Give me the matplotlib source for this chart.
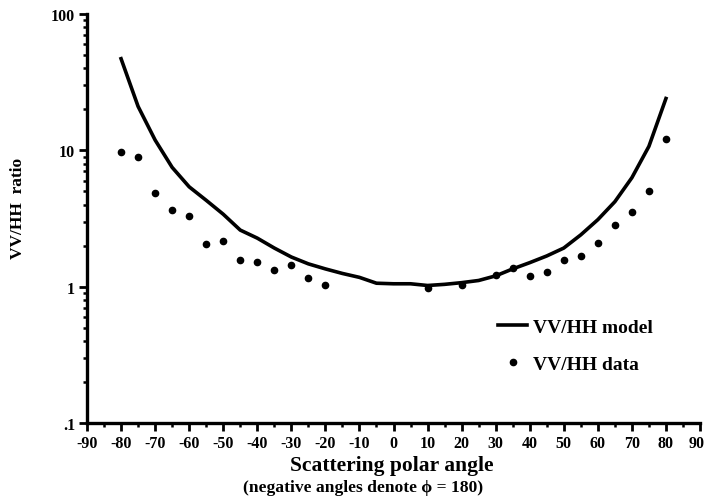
import numpy as np
import matplotlib.pyplot as plt
import matplotlib.transforms as mtransforms
from matplotlib.ticker import FixedLocator, LogLocator, NullFormatter

# model curve, 5 degree steps
model_angle = [-80, -75, -70, -65, -60, -55, -50, -45, -40, -35, -30, -25, -20,
               -15, -10, -5, 0, 5, 10, 15, 20, 25, 30, 35, 40, 45, 50, 55, 60,
               65, 70, 75, 80]
model_ratio = [47.0, 21.0, 11.9, 7.5, 5.4, 4.3, 3.4, 2.6, 2.27, 1.92, 1.65, 1.47,
               1.35, 1.25, 1.17, 1.06, 1.05, 1.05, 1.02, 1.04, 1.07, 1.11, 1.2,
               1.35, 1.5, 1.68, 1.92, 2.4, 3.1, 4.2, 6.3, 10.7, 24.0]

# measured ratios
data_angle = [-80, -75, -70, -65, -60, -55, -50, -45, -40, -35, -30, -25, -20,
              10, 20, 30, 35, 40, 45, 50, 55, 60, 65, 70, 75, 80]
data_ratio = [9.7, 8.9, 4.9, 3.67, 3.31, 2.07, 2.18, 1.58, 1.51, 1.32, 1.45, 1.16,
              1.02, 0.98, 1.02, 1.22, 1.37, 1.19, 1.28, 1.58, 1.67, 2.09, 2.83,
              3.54, 5.05, 12.2]

x_ticks = list(range(-90, 91, 10))
y_ticks = [0.1, 1, 10, 100]
y_ticklabels = [".1", "1", "10", "100"]

serif = ['Liberation Serif', 'DejaVu Serif']
plt.rcParams['font.family'] = serif
plt.rcParams['font.weight'] = 'bold'

W, H = 706, 502
fig = plt.figure(figsize=(W / 100, H / 100), dpi=100)
ax = fig.add_axes([87 / W, 1 - 424 / H, 613 / W, 409 / H])

ax.plot(model_angle, model_ratio, color='black', lw=2.6, solid_joinstyle='round',
        label='VV/HH model')
ax.plot(data_angle, data_ratio, 'o', color='black', ms=4.5, ls='none',
        label='VV/HH data')

ax.set_yscale('log')
ax.set_xlim(-90, 90)
ax.set_ylim(0.1, 100)

ax.xaxis.set_major_locator(FixedLocator(x_ticks))
ax.xaxis.set_minor_locator(FixedLocator(list(range(-85, 90, 10))))
ax.set_xticklabels([str(t) for t in x_ticks])
ax.yaxis.set_major_locator(FixedLocator(y_ticks))
ax.set_yticklabels(y_ticklabels)
ax.yaxis.set_minor_locator(LogLocator(base=10, subs=np.arange(2, 10)))
ax.yaxis.set_minor_formatter(NullFormatter())

for side in ['top', 'right']:
    ax.spines[side].set_visible(False)
for side in ['left', 'bottom']:
    ax.spines[side].set_linewidth(2.4)

ax.tick_params(which='major', direction='out', length=6, width=2, labelsize=11.5, pad=2.5)
ax.tick_params(which='minor', direction='out', length=3, width=1.8)
for lab in ax.get_xticklabels() + ax.get_yticklabels():
    lab.set_fontweight('bold')

# nudge the last x label so it stays inside the figure
last = ax.get_xticklabels()[-1]
last.set_transform(last.get_transform() +
                   mtransforms.ScaledTranslation(-3 / 100, 0, fig.dpi_scale_trans))

# axis titles
fig.text(392 / W, 1 - 466 / H, 'Scattering polar angle', ha='center', va='center',
         fontsize=15.5, fontweight='bold')
fig.text(363 / W, 1 - 488 / H, '(negative angles denote \u03d5 = 180)', ha='center',
         va='center', fontsize=12.6, fontweight='bold')
fig.text(18 / W, 1 - 208 / H, 'VV/HH  ratio', ha='center', va='center', rotation=90,
         fontsize=12.5, fontweight='bold')

ax.legend(loc='upper left', bbox_to_anchor=(498 / W, 1 - 319 / H),
          bbox_transform=fig.transFigure, frameon=False, borderpad=0,
          borderaxespad=0, handlelength=1.5, handletextpad=0.3, labelspacing=1.0,
          prop={'weight': 'bold', 'size': 14})

fig.savefig('out.png', dpi=100)
